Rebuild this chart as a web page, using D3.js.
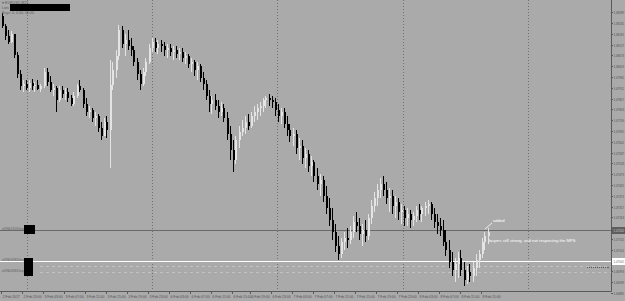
<!DOCTYPE html>
<meta charset="utf-8">
<title>EURUSD,M15</title>
<style>
  body { margin:0; padding:0; background:#aaaaaa; }
  svg { display:block; }
  text { font-family: 'Liberation Sans', sans-serif; }
</style>
<body>
<div id="chart"></div>
<script src="https://cdn.jsdelivr.net/npm/d3@7/dist/d3.min.js"></script>
<script>

var W = 625, H = 301,
    plotRight = 611, plotBottom = 291;

// candles (price)
var opens = [1.0827,
  1.0822,1.0817,1.0814,1.0818,1.08075,1.0798,1.0792,1.0793,1.0791,1.07935,
  1.0792,1.07925,1.07905,1.0792,1.0799,1.0794,1.0790,1.0791,1.0785,1.0790,
  1.0788,1.0789,1.0786,1.0783,1.0787,1.0792,1.0790,1.0783,1.0779,1.0780,
  1.0776,1.0777,1.0771,1.0767,1.0774,1.0770,1.07925,1.0800,1.0807,1.0820,
  1.0813,1.0815,1.0812,1.0810,1.0804,1.0798,1.0793,1.0799,1.0804,1.0811,
  1.0814,1.0811,1.0813,1.0812,1.0810,1.0811,1.0809,1.0810,1.0808,1.0809,
  1.0806,1.0807,1.0803,1.0804,1.0800,1.0802,1.0796,1.0793,1.0787,1.0783,
  1.0785,1.0782,1.0779,1.0781,1.0776,1.0768,1.0760,1.0755,1.0765,1.0769,
  1.0771,1.0774,1.0772,1.0777,1.0779,1.0781,1.0782,1.0785,1.0786,1.0785,
  1.0784,1.0780,1.0777,1.0779,1.0773,1.0770,1.0767,1.0768,1.0761,1.0762,
  1.0756,1.0758,1.0752,1.0754,1.0747,1.0743,1.0745,1.0737,1.0731,1.0725,
  1.0719,1.0712,1.0708,1.0714,1.0716,1.0715,1.0719,1.0724,1.0722,1.0718,
  1.0720,1.0717,1.0726,1.0732,1.0736,1.0740,1.0743,1.0740,1.0736,1.0737,
  1.0732,1.0734,1.0729,1.0730,1.0726,1.0728,1.0725,1.0727,1.0730,1.0728,
  1.0731,1.0732,1.0733,1.0728,1.0724,1.0722,1.0720,1.0714,1.0710,1.0704,
  1.0700,1.0703,1.0706,1.0700,1.0695,1.0699,1.0697,1.0701,1.0705,1.0708,
  1.0714,1.0717];

var closes = [
  1.0822,1.0817,1.0814,1.0818,1.08075,1.0798,1.0792,1.0793,1.0791,1.07935,
  1.0792,1.07925,1.07905,1.0792,1.0799,1.0794,1.0790,1.0791,1.0785,1.0790,
  1.0788,1.0789,1.0786,1.0783,1.0787,1.0792,1.0790,1.0783,1.0779,1.0780,
  1.0776,1.0777,1.0771,1.0767,1.0774,1.0770,1.07925,1.0800,1.0807,1.0820,
  1.0813,1.0815,1.0812,1.0810,1.0804,1.0798,1.0793,1.0799,1.0804,1.0811,
  1.0814,1.0811,1.0813,1.0812,1.0810,1.0811,1.0809,1.0810,1.0808,1.0809,
  1.0806,1.0807,1.0803,1.0804,1.0800,1.0802,1.0796,1.0793,1.0787,1.0783,
  1.0785,1.0782,1.0779,1.0781,1.0776,1.0768,1.0760,1.0755,1.0765,1.0769,
  1.0771,1.0774,1.0772,1.0777,1.0779,1.0781,1.0782,1.0785,1.0786,1.0785,
  1.0784,1.0780,1.0777,1.0779,1.0773,1.0770,1.0767,1.0768,1.0761,1.0762,
  1.0756,1.0758,1.0752,1.0754,1.0747,1.0743,1.0745,1.0737,1.0731,1.0725,
  1.0719,1.0712,1.0708,1.0714,1.0716,1.0715,1.0719,1.0724,1.0722,1.0718,
  1.0720,1.0717,1.0726,1.0732,1.0736,1.0740,1.0743,1.0740,1.0736,1.0737,
  1.0732,1.0734,1.0729,1.0730,1.0726,1.0728,1.0725,1.0727,1.0730,1.0728,
  1.0731,1.0732,1.0733,1.0728,1.0724,1.0722,1.0720,1.0714,1.0710,1.0704,
  1.0700,1.0703,1.0706,1.0700,1.0695,1.0699,1.0697,1.0701,1.0705,1.0708,
  1.0714,1.0717,1.0719];

var highs = [
  1.08285,1.0823,1.0820,1.08195,1.0818,1.0809,1.0800,1.0795,1.0795,1.0795,
  1.07955,1.0794,1.0795,1.0793,1.0801,1.0801,1.0797,1.0793,1.0792,1.0792,
  1.0792,1.0791,1.0791,1.07875,1.0789,1.0793,1.0795,1.0791,1.0786,1.0782,
  1.0781,1.0779,1.0778,1.0774,1.0776,1.0777,1.0805,1.0804,1.0810,1.08225,
  1.0822,1.0818,1.0820,1.0816,1.0812,1.0806,1.0800,1.0801,1.0806,1.0813,
  1.0816,1.0816,1.0815,1.0815,1.0814,1.0813,1.0813,1.0812,1.0812,1.0811,
  1.0811,1.0809,1.0808,1.0806,1.0805,1.0804,1.0803,1.0799,1.0795,1.0790,
  1.0787,1.0788,1.0785,1.0784,1.0783,1.0779,1.0772,1.0765,1.0767,1.0772,
  1.0775,1.0777,1.0778,1.0779,1.0782,1.0783,1.0784,1.0786,1.0787,1.0788,
  1.0787,1.0786,1.0783,1.0781,1.0781,1.0777,1.0773,1.0771,1.0770,1.0766,
  1.0765,1.0761,1.0760,1.0757,1.0755,1.0751,1.0748,1.0747,1.0742,1.0736,
  1.0731,1.0723,1.0717,1.0716,1.0719,1.0721,1.0722,1.0727,1.0729,1.0726,
  1.0723,1.0725,1.0728,1.0735,1.0739,1.0743,1.0746,1.0747,1.0744,1.0741,
  1.0740,1.0737,1.0736,1.0733,1.0732,1.0731,1.0730,1.0729,1.0732,1.0733,
  1.0732,1.0734,1.0735,1.0734,1.0731,1.0728,1.0726,1.0725,1.0720,1.0715,
  1.0709,1.0706,1.0709,1.0710,1.0704,1.0702,1.0703,1.0704,1.0708,1.0710,
  1.0716,1.0719,1.0721];

var lows = [
  1.0821,1.0815,1.0813,1.08135,1.0806,1.0796,1.0790,1.0789,1.0790,1.0789,
  1.0790,1.0789,1.0790,1.0789,1.0791,1.0792,1.0789,1.0787,1.0779,1.0784,
  1.0786,1.0785,1.0784,1.0782,1.0782,1.0786,1.0789,1.0781,1.0777,1.0776,
  1.0774,1.0772,1.0769,1.0765,1.0767,1.0766,1.0751,1.0790,1.0796,1.0805,
  1.0811,1.0807,1.0810,1.0807,1.0802,1.0795,1.0790,1.0792,1.0797,1.0803,
  1.0809,1.0809,1.0808,1.0809,1.0807,1.0806,1.0807,1.0805,1.0806,1.0805,
  1.0804,1.0803,1.0801,1.0799,1.0797,1.0795,1.0794,1.0790,1.0785,1.0779,
  1.0778,1.0780,1.0776,1.0777,1.0774,1.0765,1.0755,1.0749,1.0753,1.0761,
  1.0767,1.0768,1.0770,1.0771,1.0774,1.0775,1.0777,1.0779,1.0781,1.0782,
  1.0781,1.0777,1.0774,1.0773,1.0771,1.0767,1.0764,1.0762,1.0758,1.0755,
  1.0753,1.0751,1.0749,1.0747,1.0744,1.0740,1.0737,1.0734,1.0728,1.0722,
  1.0715,1.0709,1.0705,1.0706,1.0710,1.0711,1.0713,1.0716,1.0719,1.0715,
  1.0712,1.0714,1.0715,1.0723,1.0729,1.0732,1.0736,1.0737,1.0733,1.0729,
  1.0728,1.0726,1.0725,1.0723,1.0722,1.0722,1.0721,1.0722,1.0724,1.0725,
  1.0724,1.0727,1.0728,1.0725,1.0721,1.0718,1.0717,1.0712,1.0707,1.0701,
  1.0697,1.0694,1.0696,1.0697,1.0692,1.0693,1.0694,1.0694,1.0697,1.0701,
  1.0706,1.0710,1.0713];

var priceTicks = [1.08289,1.08235,1.08181,1.08127,1.08073,1.08019,1.07965,1.07911,1.07857,
  1.07803,1.07749,1.07695,1.07641,1.07587,1.07533,1.07479,1.07425,1.07371,1.07317,
  1.07263,1.07209,1.07155,1.07101,1.07047,1.06993,1.06939,1.06885];

var timeLabels = ["2 Feb 2017","2 Feb 23:00","3 Feb 03:00","3 Feb 07:00","3 Feb 11:00","3 Feb 15:00",
  "3 Feb 19:00","3 Feb 23:00","6 Feb 03:00","6 Feb 07:00","6 Feb 11:00","6 Feb 15:00",
  "6 Feb 19:00","6 Feb 23:00","7 Feb 03:00","7 Feb 07:00","7 Feb 11:00","7 Feb 15:00",
  "7 Feb 19:00","7 Feb 23:00","8 Feb 03:00","8 Feb 07:00","8 Feb 11:00","8 Feb 15:00"];

// bar index under each time label
var timeLabelBars = [0,7,14,21,28,35,42,49,56,63,70,77,83,90,97,104,111,118,125,132,139,146,153,160];

var greyLevel = 1.07202,
    whiteLevel = 1.07045,
    dashLevels = [1.07022, 1.0699];

var svg = d3.select("#chart").append("svg")
  .attr("width", W).attr("height", H);

svg.append("rect").attr("width", W).attr("height", H).attr("fill", "#aaaaaa");

var y = d3.scaleLinear().domain([1.0835, 1.0835 - plotBottom * 0.00005]).range([0, plotBottom]);
var x = d3.scaleLinear().domain([0, 162]).range([1.5, 487.5]);

// vertical grid (dotted)
var gridX = [27, 152, 277, 403, 528];
svg.selectAll(".vgrid").data(gridX).enter().append("line")
  .attr("x1", function(d){ return d + 0.5; }).attr("x2", function(d){ return d + 0.5; })
  .attr("y1", 0).attr("y2", plotBottom)
  .attr("stroke", "#707070").attr("stroke-dasharray", "1,2");

// light dashed levels
svg.selectAll(".dl").data(dashLevels).enter().append("line")
  .attr("x1", 40).attr("x2", plotRight)
  .attr("y1", function(d){ return Math.round(y(d)) + 0.5; })
  .attr("y2", function(d){ return Math.round(y(d)) + 0.5; })
  .attr("stroke", "#c2c2c2").attr("stroke-dasharray", "3,3");

// level lines
svg.append("line").attr("x1", 0).attr("x2", plotRight)
  .attr("y1", Math.round(y(greyLevel)) + 0.5).attr("y2", Math.round(y(greyLevel)) + 0.5)
  .attr("stroke", "#6a6a6a");
svg.append("line").attr("x1", 0).attr("x2", plotRight)
  .attr("y1", Math.round(y(whiteLevel)) + 0.5).attr("y2", Math.round(y(whiteLevel)) + 0.5)
  .attr("stroke", "#ffffff");

// small dotted marker at the right
var my = Math.round(y(dashLevels[0])) + 1.5;
svg.append("line").attr("x1", 587).attr("x2", 606).attr("y1", my).attr("y2", my)
  .attr("stroke", "#555").attr("stroke-dasharray", "1,1");
svg.append("text").attr("x", 608).attr("y", my + 1.5).attr("text-anchor", "middle")
  .attr("font-size", "5px").attr("fill", "#555").text("+");

// candles
var idx = d3.range(closes.length);
var candle = svg.selectAll(".c").data(idx).enter().append("g");

candle.append("line")
  .attr("x1", function(i){ return Math.round(x(i)) + 0.5; })
  .attr("x2", function(i){ return Math.round(x(i)) + 0.5; })
  .attr("y1", function(i){ return y(highs[i]); })
  .attr("y2", function(i){ return y(lows[i]); })
  .attr("stroke", function(i){ return closes[i] >= opens[i] ? "#e4e4e4" : "#000"; });

candle.append("rect")
  .attr("x", function(i){ return Math.round(x(i)); })
  .attr("width", 2)
  .attr("y", function(i){ return y(Math.max(opens[i], closes[i])); })
  .attr("height", function(i){ return Math.max(1, Math.abs(y(opens[i]) - y(closes[i]))); })
  .attr("fill", function(i){ return closes[i] >= opens[i] ? "#e4e4e4" : "#000"; });

// axes frame
svg.append("line").attr("x1", plotRight + 0.5).attr("x2", plotRight + 0.5)
  .attr("y1", 0).attr("y2", plotBottom + 0.5).attr("stroke", "#5a5a5a");
svg.append("line").attr("x1", 0).attr("x2", plotRight + 0.5)
  .attr("y1", plotBottom + 0.5).attr("y2", plotBottom + 0.5).attr("stroke", "#5a5a5a");

// price axis (labels hidden where a level box sits)
var boxY = [Math.round(y(greyLevel)), Math.round(y(whiteLevel))];
var shownTicks = priceTicks.filter(function(d){
  return boxY.every(function(b){ return Math.abs(Math.round(y(d)) - b) > 4; });
});
var pt = svg.selectAll(".pt").data(priceTicks).enter().append("line")
  .attr("x1", plotRight).attr("x2", plotRight + 2)
  .attr("y1", function(d){ return Math.round(y(d)) + 0.5; })
  .attr("y2", function(d){ return Math.round(y(d)) + 0.5; })
  .attr("stroke", "#5a5a5a");
svg.selectAll(".ptl").data(shownTicks).enter().append("text")
  .attr("x", plotRight + 2.5).attr("y", function(d){ return Math.round(y(d)) + 1.5; })
  .attr("font-size", "3.4px").attr("fill", "#505050")
  .attr("textLength", 10.5).attr("lengthAdjust", "spacingAndGlyphs")
  .text(function(d){ return d.toFixed(5); });

// price boxes for level lines
function priceBox(v, bg, fg) {
  var py = Math.round(y(v));
  svg.append("rect").attr("x", plotRight + 1).attr("y", py - 3).attr("width", W - plotRight - 1).attr("height", 7).attr("fill", bg);
  svg.append("text").attr("x", plotRight + 2.5).attr("y", py + 2).attr("font-size", "3.4px").attr("fill", fg)
    .attr("textLength", 10.5).attr("lengthAdjust", "spacingAndGlyphs").text(v.toFixed(5));
}
priceBox(greyLevel, "#5e5e5e", "#d0d0d0");
priceBox(whiteLevel, "#ffffff", "#707070");

// time axis
var tl = svg.selectAll(".tl").data(timeLabels).enter().append("g")
  .attr("transform", function(d, i){ return "translate(" + Math.round(x(timeLabelBars[i]) - 0.5) + "," + plotBottom + ")"; });
tl.append("line").attr("x1", 0.5).attr("x2", 0.5).attr("y1", 0).attr("y2", 3).attr("stroke", "#5a5a5a");
tl.append("text").attr("x", 1.5).attr("y", 6.5).attr("font-size", "3.4px").attr("fill", "#505050")
  .text(function(d){ return d; });

// top-left info
var info = ["\u25BE EURUSD,M15", "Lots", "Buys: 0, 0.00, 00.00"];
svg.selectAll(".info").data(info).enter().append("text")
  .attr("x", 2).attr("y", function(d, i){ return 4 + i * 4.8; })
  .attr("font-size", "3.6px").attr("fill", "#5a5a5a").text(function(d){ return d; });
svg.append("rect").attr("x", 10).attr("y", 4).attr("width", 60).attr("height", 7).attr("fill", "#000");

// order labels at the left
var orderLabels = [["eDNUI103 buy", greyLevel], ["eDNUI083 buy", whiteLevel], ["eDNUI084 buy", dashLevels[1]]];
svg.selectAll(".ol").data(orderLabels).enter().append("text")
  .attr("x", 2).attr("y", function(d){ return Math.round(y(d[1])) - 0.5; })
  .attr("font-size", "3.5px").attr("fill", "#5f5f5f").text(function(d){ return d[0]; });
svg.append("rect").attr("x", 24).attr("y", Math.round(y(greyLevel)) - 5).attr("width", 11).attr("height", 9).attr("fill", "#000");
svg.append("rect").attr("x", 24).attr("y", Math.round(y(whiteLevel)) - 3).attr("width", 9).attr("height", 18).attr("fill", "#000");

// annotation
svg.append("line").attr("x1", 485).attr("y1", 229).attr("x2", 492).attr("y2", 223)
  .attr("stroke", "#ffffff").attr("stroke-width", 0.8);
svg.append("text").attr("x", 493).attr("y", 222).attr("font-size", "4.2px").attr("fill", "#ffffff").text("added");
svg.append("text").attr("x", 489).attr("y", 242).attr("font-size", "4.2px").attr("fill", "#ffffff")
  .text("buyers still strong, and not respecting the MPS");

</script>
</body>
